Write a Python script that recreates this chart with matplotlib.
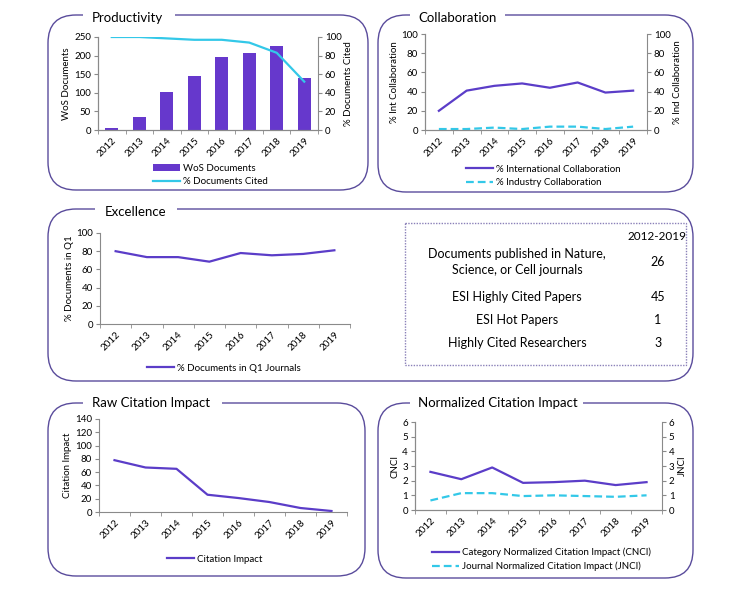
import matplotlib
matplotlib.use("Agg")
import matplotlib.pyplot as plt
from matplotlib.patches import FancyBboxPatch, Rectangle

plt.rcParams["font.family"] = ["Lato", "DejaVu Sans"]

W, H = 746, 596

years = ["2012", "2013", "2014", "2015", "2016", "2017", "2018", "2019"]
wos_docs = [5, 34, 103, 144, 196, 208, 227, 140]
pct_cited = [100, 100, 98.5, 97, 97, 94, 83, 52]
pct_intl = [20, 41, 46, 48.5, 44, 49.5, 39, 41]
pct_industry = [1, 1, 2.5, 1, 3.5, 3.5, 1, 3.5]
pct_q1 = [80, 73.5, 73.5, 68.5, 78, 75.5, 77, 81]
citation_impact = [78, 67, 65, 26, 21, 15, 6, 1.5]
cnci = [2.6, 2.1, 2.9, 1.85, 1.9, 2.0, 1.7, 1.9]
jnci = [0.65, 1.15, 1.15, 0.95, 1.0, 0.95, 0.9, 1.0]

table_rows = ["Documents published in Nature,\nScience, or Cell journals",
              "ESI Highly Cited Papers", "ESI Hot Papers",
              "Highly Cited Researchers"]
table_vals = ["26", "45", "1", "3"]

PURPLE = "#5b3dc8"
BAR = "#6638cc"
CYAN = "#33c8e8"
FRAME = "#5a4c9c"
SPINE = "#8a8a8a"
FS = 7
DASH = (0, (3.5, 1.8))

fig = plt.figure(figsize=(W / 100, H / 100), dpi=100)

# background layer in pixel coordinates
bg = fig.add_axes([0, 0, 1, 1])
bg.set_xlim(0, W)
bg.set_ylim(H, 0)
bg.axis("off")


def panel(x0, y0, x1, y1, title, tx, ty, gap):
    bg.add_patch(FancyBboxPatch((x0, y0), x1 - x0, y1 - y0,
                                boxstyle="round,pad=0,rounding_size=28",
                                fc="none", ec=FRAME, lw=1.0))
    bg.add_patch(Rectangle((gap[0], y0 - 4), gap[1] - gap[0], 8,
                           fc="white", ec="none", zorder=3))
    bg.text(tx, ty, title, fontsize=9.5, va="center", ha="left", zorder=4)


def rect(x0, y0, x1, y1):
    return [x0 / W, 1 - y1 / H, (x1 - x0) / W, (y1 - y0) / H]


def style(ax, right=False):
    ax.set_facecolor("none")
    ax.spines["top"].set_visible(False)
    ax.spines["right"].set_visible(right)
    for s in ("left", "bottom", "right"):
        ax.spines[s].set_color(SPINE)
    ax.set_xlim(-0.5, len(years) - 0.5)
    ax.set_xticks(range(len(years)))
    ax.set_xticklabels(years, rotation=45, ha="right", rotation_mode="anchor")
    ax.set_xticks([i - 0.5 for i in range(len(years) + 1)], minor=True)
    ax.tick_params(axis="x", which="major", length=0, labelsize=FS, pad=4)
    ax.tick_params(axis="x", which="minor", length=3, color=SPINE)
    ax.tick_params(axis="y", length=3, color=SPINE, labelsize=FS, pad=2)


def twin(ax, ylim, ticks, label):
    ax2 = ax.twinx()
    ax2.set_facecolor("none")
    ax2.spines["top"].set_visible(False)
    for s in ("left", "bottom", "right"):
        ax2.spines[s].set_color(SPINE)
    ax2.set_ylim(*ylim)
    ax2.set_yticks(ticks)
    ax2.tick_params(axis="y", length=3, color=SPINE, labelsize=FS, pad=2)
    ax2.set_ylabel(label, fontsize=FS, labelpad=2)
    return ax2


def legend(ax, handles, labels, x, y):
    ax.legend(handles, labels, loc="upper left", frameon=False, fontsize=FS,
              bbox_to_anchor=(x / W, 1 - y / H), bbox_transform=fig.transFigure,
              borderpad=0, handlelength=2.8, handletextpad=0.3, labelspacing=0.45)


xs = list(range(len(years)))

# Productivity
panel(48, 15, 368, 190, "Productivity", 92, 18, (83, 175))
ax = fig.add_axes(rect(98, 37, 318, 130))
style(ax)
bars = ax.bar(xs, wos_docs, width=0.48, color=BAR, zorder=2)
ax.set_ylim(0, 250)
ax.set_yticks(range(0, 251, 50))
ax.set_ylabel("WoS Documents", fontsize=FS, labelpad=2)
ax2 = twin(ax, (0, 100), range(0, 101, 20), "% Documents Cited")
ln, = ax2.plot(xs, pct_cited, color=CYAN, lw=1.6)
legend(ax2, [bars, ln], ["WoS Documents", "% Documents Cited"], 148, 159)

# Collaboration
panel(378, 15, 693, 192, "Collaboration", 418, 18, (410, 505))
ax = fig.add_axes(rect(425, 34, 647, 130))
style(ax)
l1, = ax.plot(xs, pct_intl, color=PURPLE, lw=1.6)
ax.set_ylim(0, 100)
ax.set_yticks(range(0, 101, 20))
ax.set_ylabel("% Int Collaboration", fontsize=FS, labelpad=2)
ax2 = twin(ax, (0, 100), range(0, 101, 20), "% Ind Collaboration")
l2, = ax2.plot(xs, pct_industry, color=CYAN, lw=1.6, ls=DASH)
legend(ax2, [l1, l2], ["% International Collaboration", "% Industry Collaboration"], 461, 160)

# Excellence
panel(48, 209, 693, 381, "Excellence", 105, 212, (95, 177))
ax = fig.add_axes(rect(100, 233, 350, 324))
style(ax)
l1, = ax.plot(xs, pct_q1, color=PURPLE, lw=1.6)
ax.set_ylim(0, 100)
ax.set_yticks(range(0, 101, 20))
ax.set_ylabel("% Documents in Q1", fontsize=FS, labelpad=2)
legend(ax, [l1], ["% Documents in Q1 Journals"], 142, 359)

bg.add_patch(Rectangle((405, 223), 281, 142, fc="none", ec="#8a80b8",
                       lw=1.0, ls=(0, (1, 1))))
bg.text(657, 237, "2012-2019", fontsize=8.5, ha="center", va="center")
row_y = [262, 297, 320, 343]
for label, val, yy in zip(table_rows, table_vals, row_y):
    bg.text(517, yy, label, fontsize=9, ha="center", va="center", linespacing=1.5)
    bg.text(658, yy, val, fontsize=9, ha="center", va="center")

# Raw Citation Impact
panel(48, 403, 365, 576, "Raw Citation Impact", 92, 403, (83, 222))
ax = fig.add_axes(rect(99, 419, 347, 512))
style(ax)
l1, = ax.plot(xs, citation_impact, color=PURPLE, lw=1.6)
ax.set_ylim(0, 140)
ax.set_yticks(range(0, 141, 20))
ax.set_ylabel("Citation Impact", fontsize=FS, labelpad=2)
legend(ax, [l1], ["Citation Impact"], 162, 550)

# Normalized Citation Impact
panel(378, 403, 693, 578, "Normalized Citation Impact", 418, 403, (410, 583))
ax = fig.add_axes(rect(415, 422, 662, 510))
style(ax)
l1, = ax.plot(xs, cnci, color=PURPLE, lw=1.6)
ax.set_ylim(0, 6)
ax.set_yticks(range(0, 7))
ax.set_ylabel("CNCI", fontsize=FS, labelpad=2)
ax2 = twin(ax, (0, 6), range(0, 7), "JNCI")
l2, = ax2.plot(xs, jnci, color=CYAN, lw=1.6, ls=DASH)
legend(ax2, [l1, l2], ["Category Normalized Citation Impact (CNCI)",
                       "Journal Normalized Citation Impact (JNCI)"], 427, 543)

fig.savefig("out.png", dpi=100)
